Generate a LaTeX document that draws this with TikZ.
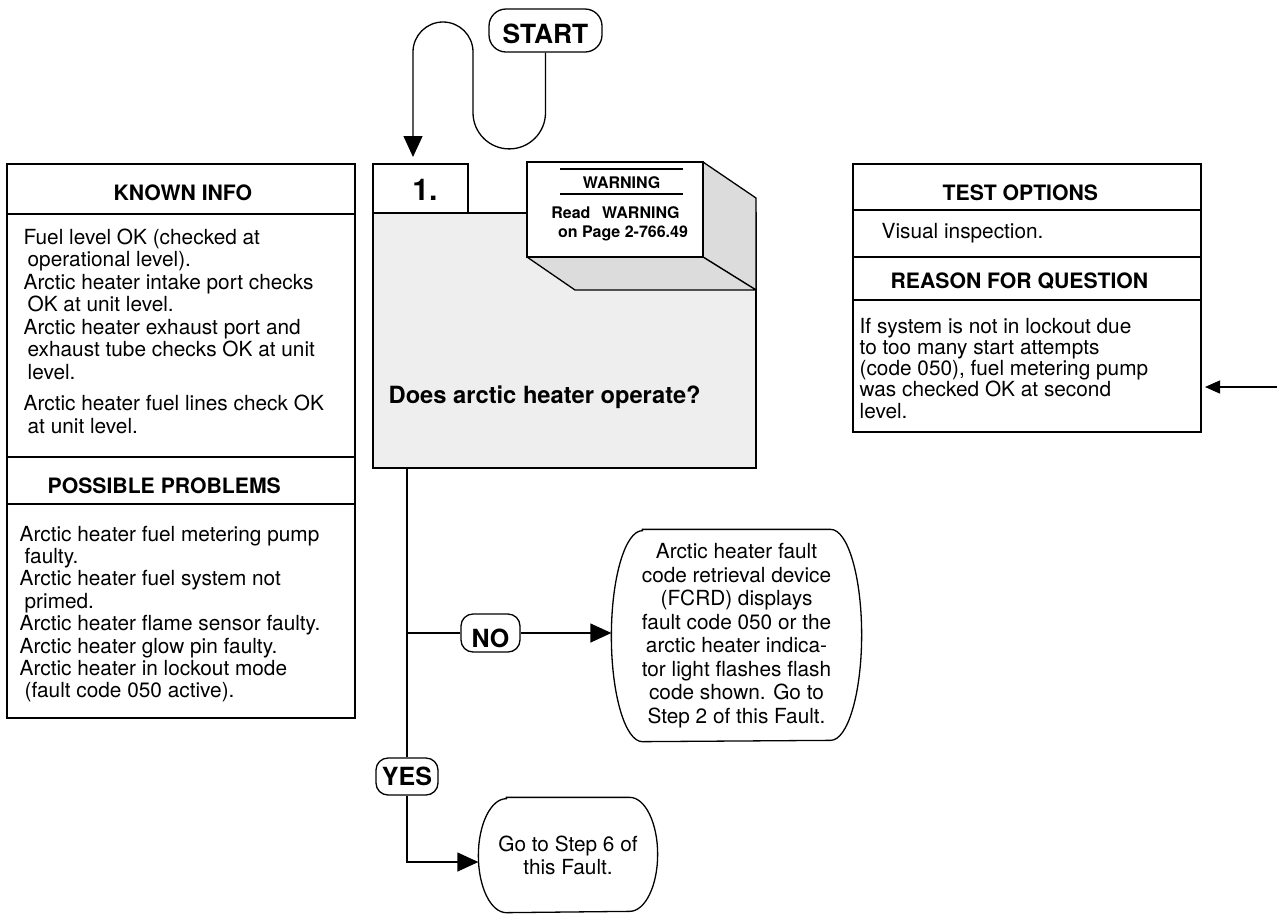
\documentclass[tikz,border=0pt]{standalone}
\usepackage{fontspec}
\setmainfont{TeX Gyre Heros}
\usetikzlibrary{arrows.meta}
\definecolor{panelgray}{HTML}{EEEEEE}
\definecolor{facegray}{HTML}{DCDCDC}
% paragraph block whose baseline is the first line's baseline
\newcommand{\textblock}[3][22.5]{\parbox[t]{#2}{\raggedright\fontsize{20.8}{#1}\selectfont #3}}
\newcommand{\headsize}{\bfseries\fontsize{21.2}{25}\selectfont}
\begin{document}
\begin{tikzpicture}[x=1pt,y=-1pt,line width=1.3pt,
  panel/.style={draw, fill=white, anchor=north west, inner sep=0pt, outer sep=0pt},
  pill/.style={draw, fill=white, rounded corners=12pt, inner sep=0pt,
               font=\bfseries\fontsize{25}{25}\selectfont, text depth=0pt},
  body/.style={anchor=base west, inner sep=0pt},
  head/.style={anchor=base west, inner sep=0pt, font=\headsize},
  label/.style={anchor=base, inner sep=0pt},
  bigarrow/.style={-{Triangle[length=21pt,width=19pt]}},
  smallarrow/.style={-{Triangle[length=15pt,width=13pt]}},
]
\useasboundingbox (0,0) rectangle (1277,914);

% ---------- start terminal ----------
\node[pill, rounded corners=17pt, minimum width=113pt, minimum height=43pt,
      font=\bfseries\fontsize{26.4}{26}\selectfont, text height=25pt] (start) at (545.5,30.5) {START};

% ---------- step 1 question box ----------
\node[panel, fill=panelgray, minimum width=383pt, minimum height=255pt] (question) at (373,213) {};
\node[panel, minimum width=95pt, minimum height=49pt] (stepno) at (373,164) {};
\node[label, font=\bfseries\fontsize{30}{30}\selectfont] (stepnum) at (425,200) {1.};

% warning block with its shaded side and bottom faces
\draw[fill=facegray, line join=round] (703,162) -- (756,198) -- (756,290) -- (703,257) -- cycle;
\draw[fill=facegray, line join=round] (527,257) -- (575,290) -- (756,290) -- (703,257) -- cycle;
\node[panel, minimum width=176pt, minimum height=95pt] (warn) at (527,162) {};
\draw[line width=1.6pt] (560,169) -- (683,169);
\draw[line width=1.6pt] (560,194) -- (683,194);
\node[label, font=\bfseries\fontsize{16}{16}\selectfont] (warntitle) at (621.5,188) {WARNING};
\node[label, font=\bfseries\fontsize{16}{16}\selectfont] (warnread) at (615.5,218) {Read\hspace{11.7pt}WARNING};
\node[label, font=\bfseries\fontsize{16}{16}\selectfont] (warnpage) at (623,237) {on Page 2-766.49};

\node[body, font=\bfseries\fontsize{23.7}{24}\selectfont] (qtext) at (388,403) {Does arctic heater operate?};

% ---------- left panel ----------
\node[panel, minimum width=348pt, minimum height=554pt] (known) at (7,164) {};
\draw (7,214) -- (355,214);
\draw (7,457) -- (355,457);
\draw (7,504) -- (355,504);
\node[head] (knownhead) at (113,200) {KNOWN INFO};
\node[body] (knowntext) at (23,244) {\textblock{330pt}{%
Fuel level OK (checked at\\
\hspace*{4pt}operational level).\\
Arctic heater intake port checks\\
\hspace*{4pt}OK at unit level.\\
Arctic heater exhaust port and\\
\hspace*{4pt}exhaust tube checks OK at unit\\
\hspace*{4pt}level.\\[9pt]
Arctic heater fuel lines check OK\\
\hspace*{4pt}at unit level.}};
\node[head] (probhead) at (47,493) {POSSIBLE PROBLEMS};
\node[body] (probtext) at (19,541) {\textblock[22.4]{335pt}{%
Arctic heater fuel metering pump\\
\hspace*{5pt}faulty.\\
Arctic heater fuel system not\\
\hspace*{5pt}primed.\\
Arctic heater flame sensor faulty.\\
Arctic heater glow pin faulty.\\
Arctic heater in lockout mode\\
\hspace*{5pt}(fault code 050 active).}};

% ---------- right panel ----------
\node[panel, minimum width=348pt, minimum height=268pt] (tests) at (853,164) {};
\draw (853,210) -- (1201,210);
\draw (853,257) -- (1201,257);
\draw (853,300) -- (1201,300);
\node[head] (testhead) at (942,200) {TEST OPTIONS};
\node[body] (testtext) at (881,238) {\textblock{300pt}{Visual inspection.}};
\node[head] (reasonhead) at (890,288) {REASON FOR QUESTION};
\node[body] (reasontext) at (859,333) {\textblock[21.3]{335pt}{%
If system is not in lockout due\\
to too many start attempts\\
(code 050), fuel metering pump\\
was checked OK at second\\
level.}};

% ---------- outcomes ----------
\node[pill, minimum width=59pt, minimum height=38pt, text height=28pt] (no) at (490.5,633) {NO};
\node[pill, minimum width=62pt, minimum height=37pt, text height=17pt] (yes) at (407,776.5) {YES};

\node[inner sep=0pt, minimum width=249pt, minimum height=211pt, align=center,
      font=\fontsize{20.8}{23.5}\selectfont] (nofault) at (736.5,635.5)
  {Arctic heater fault\\code retrieval device\\(FCRD) displays\\fault code 050 or the\\arctic heater indica-\\tor light flashes flash\\code shown. Go to\\Step 2 of this Fault.};
\draw ([xshift=31pt]nofault.north west) -- ([xshift=-31pt]nofault.north east)
  arc[start angle=90, end angle=-90, x radius=31pt, y radius=105.5pt]
  -- ([xshift=31pt]nofault.south west)
  arc[start angle=270, end angle=90, x radius=31pt, y radius=105.5pt] -- cycle;

\node[inner sep=0pt, minimum width=178pt, minimum height=114pt, align=center,
      font=\fontsize{20.8}{23}\selectfont] (goal) at (568,855)
  {Go to Step 6 of\\this Fault.};
\draw ([xshift=28pt]goal.north west) -- ([xshift=-28pt]goal.north east)
  arc[start angle=90, end angle=-90, x radius=28pt, y radius=57pt]
  -- ([xshift=28pt]goal.south west)
  arc[start angle=270, end angle=90, x radius=28pt, y radius=57pt] -- cycle;

% ---------- connectors ----------
\draw[bigarrow, shorten >=7pt] (start.south) -- ++(0,60)
  arc[start angle=0, end angle=-180, radius=36.25pt] -- (473,52)
  arc[start angle=0, end angle=180, radius=30pt] -- (413,0 |- stepno.north);

\coordinate (branch) at (yes.north |- no.west);
\draw (question.south -| yes.north) -- (yes.north);
\draw (branch) -- (no.west);
\draw[bigarrow] (no.east) -- (no.east -| nofault.west);
\draw[bigarrow] (yes.south) |- (goal.west |- 0,862);

\coordinate (rightedge) at (1277,387);
\draw[smallarrow, shorten >=4pt] (rightedge) -- (rightedge -| tests.east);
\end{tikzpicture}
\end{document}
